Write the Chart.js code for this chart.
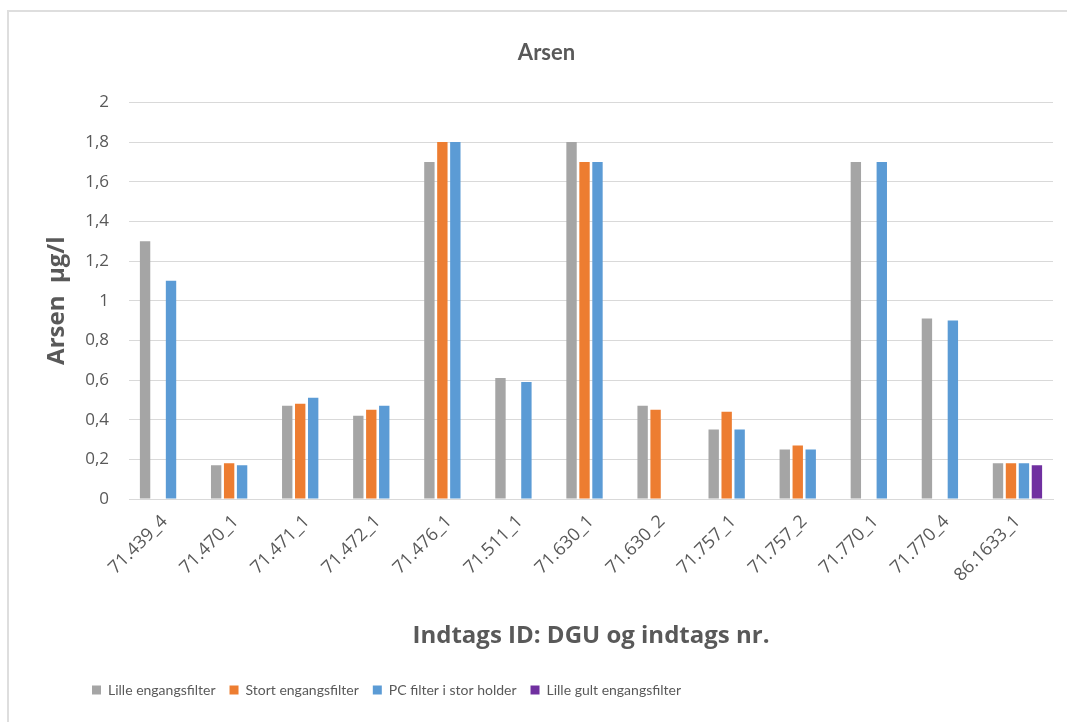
<!DOCTYPE html>
<html lang="da">
<head>
    <meta charset="UTF-8">
    <title>Arsen</title>
    <script src="https://cdn.jsdelivr.net/npm/chart.js"></script>
    <style>
        html, body { margin: 0; padding: 0; background: #fff; }
        .frame {
            position: absolute; left: 7px; top: 10px;
            width: 1080px; height: 730px;
            border: 2px solid #dedede; box-sizing: border-box;
        }
        .wrap { position: absolute; left: 0; top: 0; width: 1067px; height: 722px; }
    </style>
</head>
<body>
    <div class="frame"></div>
    <div class="wrap"><canvas id="chart" width="1067" height="722"></canvas></div>
    <script>
        const categories = ['71.439_4', '71.470_1', '71.471_1', '71.472_1', '71.476_1', '71.511_1', '71.630_1',
                            '71.630_2', '71.757_1', '71.757_2', '71.770_1', '71.770_4', '86.1633_1'];
        const lilleEngangs = [1.3, 0.17, 0.47, 0.42, 1.7, 0.61, 1.8, 0.47, 0.35, 0.25, 1.7, 0.91, 0.18];
        const stortEngangs = [null, 0.18, 0.48, 0.45, 1.8, null, 1.7, 0.45, 0.44, 0.27, null, null, 0.18];
        const pcFilter = [1.1, 0.17, 0.51, 0.47, 1.8, 0.59, 1.7, null, 0.35, 0.25, 1.7, 0.9, 0.18];
        const lilleGult = [null, null, null, null, null, null, null, null, null, null, null, null, 0.17];

        const textColor = '#595959';
        const gridColor = '#d9d9d9';
        const narrow = 'Lato, "Liberation Sans", sans-serif';
        const openSans = '"Open Sans", "Noto Sans", sans-serif';

        // Excel legend sits left of centre; nudge the Chart.js legend over
        const legendShift = {
            id: 'legendShift',
            afterUpdate(chart) {
                chart.legend.left = 78;
                chart.legend.adjustHitBoxes();
            }
        };

        function ds(label, data, color) {
            return {
                label: label,
                data: data,
                backgroundColor: color,
                borderWidth: 0,
                categoryPercentage: 0.73,
                barPercentage: 0.8
            };
        }

        new Chart(document.getElementById('chart'), {
            type: 'bar',
            data: {
                labels: categories,
                datasets: [
                    ds('Lille engangsfilter', lilleEngangs, '#a5a5a5'),
                    ds('Stort engangsfilter', stortEngangs, '#ed7d31'),
                    ds('PC filter i stor holder', pcFilter, '#5b9bd5'),
                    ds('Lille gult engangsfilter', lilleGult, '#7030a0')
                ]
            },
            options: {
                responsive: false,
                animation: false,
                layout: { padding: { left: 40, right: 14, top: 0, bottom: 15 } },
                plugins: {
                    title: {
                        display: true,
                        text: 'Arsen',
                        color: textColor,
                        font: { family: narrow, size: 22, weight: 'bold' },
                        padding: { top: 40, bottom: 36 }
                    },
                    legend: {
                        position: 'bottom',
                        align: 'start',
                        labels: {
                            color: textColor,
                            font: { family: narrow, size: 14 },
                            boxWidth: 9,
                            boxHeight: 9,
                            padding: 14
                        }
                    },
                    tooltip: { enabled: false }
                },
                scales: {
                    x: {
                        grid: { display: false, drawTicks: false },
                        border: { color: gridColor, width: 1 },
                        ticks: {
                            color: textColor,
                            font: { family: openSans, size: 18 },
                            minRotation: 45,
                            maxRotation: 45,
                            padding: 12,
                            autoSkip: false
                        },
                        title: {
                            display: true,
                            text: 'Indtags ID: DGU og indtags nr.',
                            color: textColor,
                            font: { family: openSans, size: 24, weight: 'bold' },
                            padding: { top: 0, bottom: 18 }
                        },
                        afterFit(scale) { scale.height = 170; }
                    },
                    y: {
                        min: 0,
                        max: 2,
                        grid: { color: gridColor, lineWidth: 1, drawTicks: false },
                        border: { display: false },
                        ticks: {
                            stepSize: 0.2,
                            color: textColor,
                            font: { family: openSans, size: 17 },
                            padding: 20,
                            callback: v => (Math.round(v * 10) / 10).toString().replace('.', ',')
                        },
                        title: {
                            display: true,
                            text: 'Arsen  µg/l',
                            color: textColor,
                            font: { family: openSans, size: 24, weight: 'bold' },
                            padding: { top: 3, bottom: 0 }
                        },
                        afterFit(scale) { scale.width = 89; }
                    }
                }
            },
            plugins: [legendShift]
        });
    </script>
</body>
</html>
